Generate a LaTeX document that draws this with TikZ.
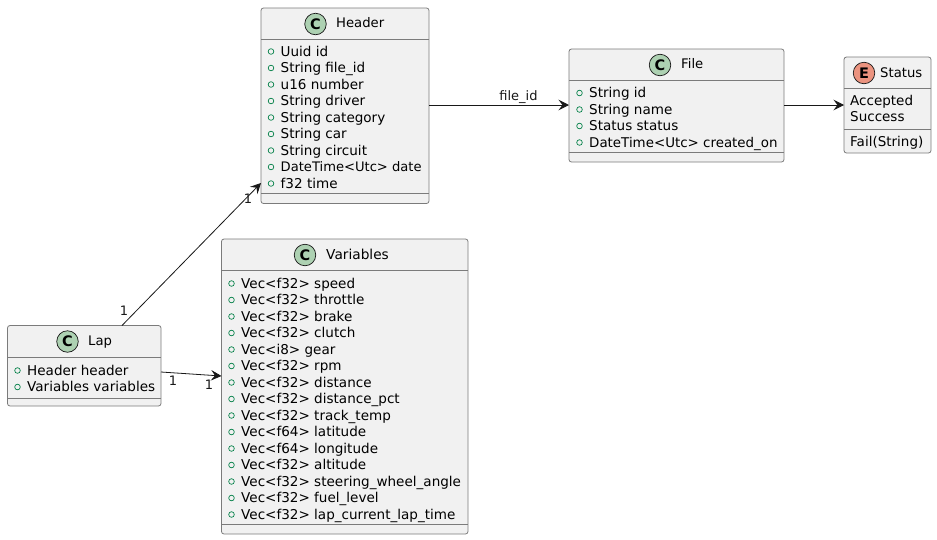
\documentclass[tikz,border=0pt]{standalone}
\usepackage{fontspec}
\setmainfont{DejaVu Sans}
\usetikzlibrary{arrows.meta,calc}
\definecolor{boxfill}{HTML}{F1F1F1}
\definecolor{boxline}{HTML}{7B7B7B}
\definecolor{inkc}{HTML}{181818}
\definecolor{visc}{HTML}{038048}
\definecolor{classc}{HTML}{ADD1B2}
\definecolor{enumc}{HTML}{EB937F}
\newcommand{\ClassBox}[7]{% name x1 y1 x2 y2 div1 div2
  \node[boxnode,minimum width=#4-#2,minimum height=#5-#3] (#1) at ({(#2+#4)/2},{(#3+#5)/2}) {};
  \draw[divline] (#2,#6) -- (#4,#6);
  \draw[divline] (#2,#7) -- (#4,#7);
}
\newcommand{\Member}[4]{% name x y text
  \node[vis] (#1v) at (#2+9.5,#3) {};
  \node[member] (#1) at (#2+19,#3) {#4};
}
\tikzset{
  x=1pt,y=-1pt,
  boxnode/.style={draw=boxline,fill=boxfill,rounded corners=2.5pt,line width=.8pt,inner sep=0pt,outer sep=0pt},
  divline/.style={draw=boxline,line width=.8pt},
  badge/.style={draw=inkc,line width=.7pt,circle,minimum size=21.5pt,inner sep=0pt,text=black,font=\fontsize{14.5}{15}\selectfont\bfseries},
  vis/.style={draw=visc,line width=.7pt,circle,minimum size=5.6pt,inner sep=0pt},
  member/.style={anchor=mid west,inner sep=0pt,yshift=-2.1pt,text=black,font=\fontsize{13.55}{15}\selectfont},
  titletext/.style={anchor=mid west,inner sep=0pt,yshift=-1.5pt,text=black,font=\fontsize{13.2}{15}\selectfont},
  plain/.style={anchor=mid west,inner sep=0pt,yshift=-1.5pt,text=black,font=\fontsize{13.5}{15}\selectfont},
  lbl/.style={inner sep=0pt,text=inkc,font=\fontsize{13}{15}\selectfont},
  conn/.style={draw=inkc,line width=.8pt,-{Stealth[length=10.5pt,width=10.5pt,inset=4pt]}},
}
\begin{document}
\begin{tikzpicture}
\useasboundingbox (0,0) rectangle (937,539);
\ClassBox{header}{261}{8}{429}{203.5}{39}{193.5}
\ClassBox{file}{569}{49}{784}{162}{80}{152}
\ClassBox{status}{844}{57}{931}{153}{88}{129}
\ClassBox{lap}{7.5}{325.5}{161}{406}{357}{398}
\ClassBox{vars}{221.5}{239}{468}{534}{270.5}{524}
% titles
\node[badge,fill=classc] (hb) at (315.5,24) {C};
\node[titletext] (ht) at (336,23) {Header};
\node[badge,fill=classc] (fb) at (660,65) {C};
\node[titletext] (ft) at (681,64.5) {File};
\node[badge,fill=enumc] (sb) at (864,73) {E};
\node[titletext] (st) at (880,73) {Status};
\node[badge,fill=classc] (lb) at (67.5,341.5) {C};
\node[titletext] (lt) at (88,341) {Lap};
\node[badge,fill=classc] (vb) at (305,255) {C};
\node[titletext,font=\fontsize{13.7}{15}\selectfont] (vt) at (326,255) {Variables};
% header members
\Member{ha}{261.5}{51.5}{Uuid id}
\Member{hb1}{261.5}{68}{String file\_id}
\Member{hc}{261.5}{84.5}{u16 number}
\Member{hd}{261.5}{101}{String driver}
\Member{he}{261.5}{117.5}{String category}
\Member{hf}{261.5}{134}{String car}
\Member{hg}{261.5}{150.5}{String circuit}
\Member{hh}{261.5}{167}{\fontsize{13.1}{15}\selectfont DateTime<Utc> date}
\Member{hi}{261.5}{183.5}{f32 time}
% file members
\Member{fa}{570}{93}{String id}
\Member{fb1}{570}{109.5}{String name}
\Member{fc}{570}{126}{Status status}
\Member{fd}{570}{142.5}{\fontsize{13.4}{15}\selectfont DateTime<Utc> created\_on}
% status
\node[plain] (sa) at (850,101) {Accepted};
\node[plain] (sc) at (850,117) {Success};
\node[plain] (sd) at (850,142) {Fail(String)};
% lap
\Member{la}{8}{370.5}{Header header}
\Member{lc}{8}{387}{Variables variables}
% vars
\Member{va}{222}{283.5}{Vec<f32> speed}
\Member{vc}{222}{300}{Vec<f32> throttle}
\Member{vd}{222}{316.5}{Vec<f32> brake}
\Member{ve}{222}{333}{Vec<f32> clutch}
\Member{vf}{222}{349.5}{Vec<i8> gear}
\Member{vg}{222}{366}{Vec<f32> rpm}
\Member{vh}{222}{382.5}{Vec<f32> distance}
\Member{vi}{222}{399}{Vec<f32> distance\_pct}
\Member{vj}{222}{415.5}{Vec<f32> track\_temp}
\Member{vk}{222}{432}{Vec<f64> latitude}
\Member{vl}{222}{448.5}{Vec<f64> longitude}
\Member{vm}{222}{465}{Vec<f32> altitude}
\Member{vn}{222}{481.5}{Vec<f32> steering\_wheel\_angle}
\Member{vo}{222}{498}{Vec<f32> fuel\_level}
\Member{vp}{222}{514.5}{Vec<f32> lap\_current\_lap\_time}
% connectors
\draw[conn] ($(header.north east)+(0,97)$) -- ($(file.north west)+(0,56)$);
\node[lbl] (l1) at (518.5,97) {file\_id};
\draw[conn] ($(file.north east)+(0,56)$) -- ($(status.north west)+(0,48)$);
\draw[conn] ($(lap.north west)+(114.5,0)$) -- ($(header.north west)+(0,175)$);
\draw[conn] ($(lap.north east)+(0,46.5)$) -- ($(vars.north west)+(0,137)$);
\node[lbl] (c1) at (124,311) {1};
\node[lbl] (c2) at (248,199) {1};
\node[lbl] (c3) at (173,381) {1};
\node[lbl] (c4) at (209,385) {1};
\end{tikzpicture}
\end{document}
